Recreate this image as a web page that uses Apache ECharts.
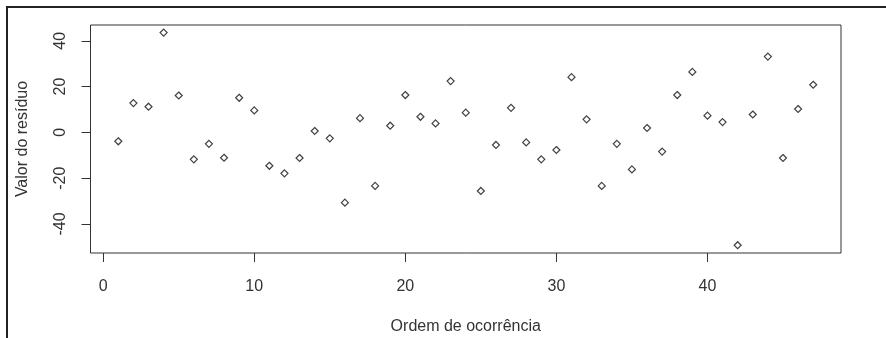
<!DOCTYPE html>
<html>
<head>
<meta charset="utf-8">
<script src="https://cdn.jsdelivr.net/npm/echarts@6/dist/echarts.min.js"></script>
<style>
  html, body { margin: 0; padding: 0; background: #fff; }
  #residuos { width: 886px; height: 338px; }
</style>
</head>
<body>
<div id="residuos"></div>
<script>
// ordem de ocorrência e valor do resíduo
var ordem = [1, 2, 3, 4, 5, 6, 7, 8, 9, 10, 11, 12, 13, 14, 15, 16, 17, 18, 19, 20,
  21, 22, 23, 24, 25, 26, 27, 28, 29, 30, 31, 32, 33, 34, 35, 36, 37, 38, 39, 40,
  41, 42, 43, 44, 45, 46, 47];
var residuo = [-3.9, 12.8, 11.2, 43.6, 16.1, -11.8, -5.0, -11.1, 15.1, 9.6,
  -14.6, -17.9, -11.2, 0.6, -2.6, -30.7, 6.2, -23.4, 2.9, 16.3,
  6.8, 3.9, 22.4, 8.6, -25.6, -5.5, 10.7, -4.4, -11.8, -7.7,
  24.1, 5.7, -23.4, -5.0, -16.2, 1.9, -8.4, 16.3, 26.4, 7.3,
  4.5, -49.3, 7.8, 33.1, -11.2, 10.2, 20.8];
var xTicks = [0, 10, 20, 30, 40];
var yTicks = [-40, -20, 0, 20, 40];

var pontos = ordem.map(function (o, i) { return [o, residuo[i]]; });

var fonte = "Liberation Sans, Arial, sans-serif";
var myChart = echarts.init(document.getElementById("residuos"));

var option = {
  animation: false,
  backgroundColor: "#fff",
  grid: {
    left: 90.5,
    right: 45,
    top: 25,
    bottom: 85,
    outerBoundsMode: "none",
    containLabel: false,
    show: true,
    borderColor: "#333",
    borderWidth: 1,
    backgroundColor: "transparent"
  },
  graphic: [
    {
      type: "polyline",
      shape: { points: [[7, 400], [7, 7], [900, 7]] },
      style: { stroke: "#222", lineWidth: 2, fill: null },
      silent: true
    }
  ],
  xAxis: {
    type: "value",
    min: -0.84,
    max: 48.84,
    name: "Ordem de ocorrência",
    nameLocation: "middle",
    nameGap: 66,
    nameTextStyle: { color: "#333", fontSize: 16, fontFamily: fonte },
    axisLine: { show: false, onZero: false },
    splitLine: { show: false },
    axisTick: {
      show: true,
      length: 9,
      customValues: xTicks,
      lineStyle: { color: "#333", width: 1 }
    },
    axisLabel: {
      customValues: xTicks,
      color: "#333",
      fontSize: 16,
      fontFamily: fonte,
      margin: 26
    }
  },
  yAxis: {
    type: "value",
    min: -52.7,
    max: 46.9,
    name: "Valor do resíduo",
    nameLocation: "middle",
    nameGap: 60,
    nameRotate: 90,
    nameTextStyle: { color: "#333", fontSize: 16, fontFamily: fonte },
    axisLine: { show: false, onZero: false },
    splitLine: { show: false },
    axisTick: {
      show: true,
      length: 9,
      customValues: yTicks,
      lineStyle: { color: "#333", width: 1 }
    },
    axisLabel: {
      customValues: yTicks,
      rotate: 90,
      color: "#333",
      fontSize: 16,
      fontFamily: fonte,
      margin: 22
    }
  },
  series: [
    {
      type: "scatter",
      data: pontos,
      symbol: "diamond",
      symbolSize: 7,
      itemStyle: { color: "#fff", borderColor: "#111", borderWidth: 1.2 }
    }
  ]
};

myChart.setOption(option);
</script>
</body>
</html>
